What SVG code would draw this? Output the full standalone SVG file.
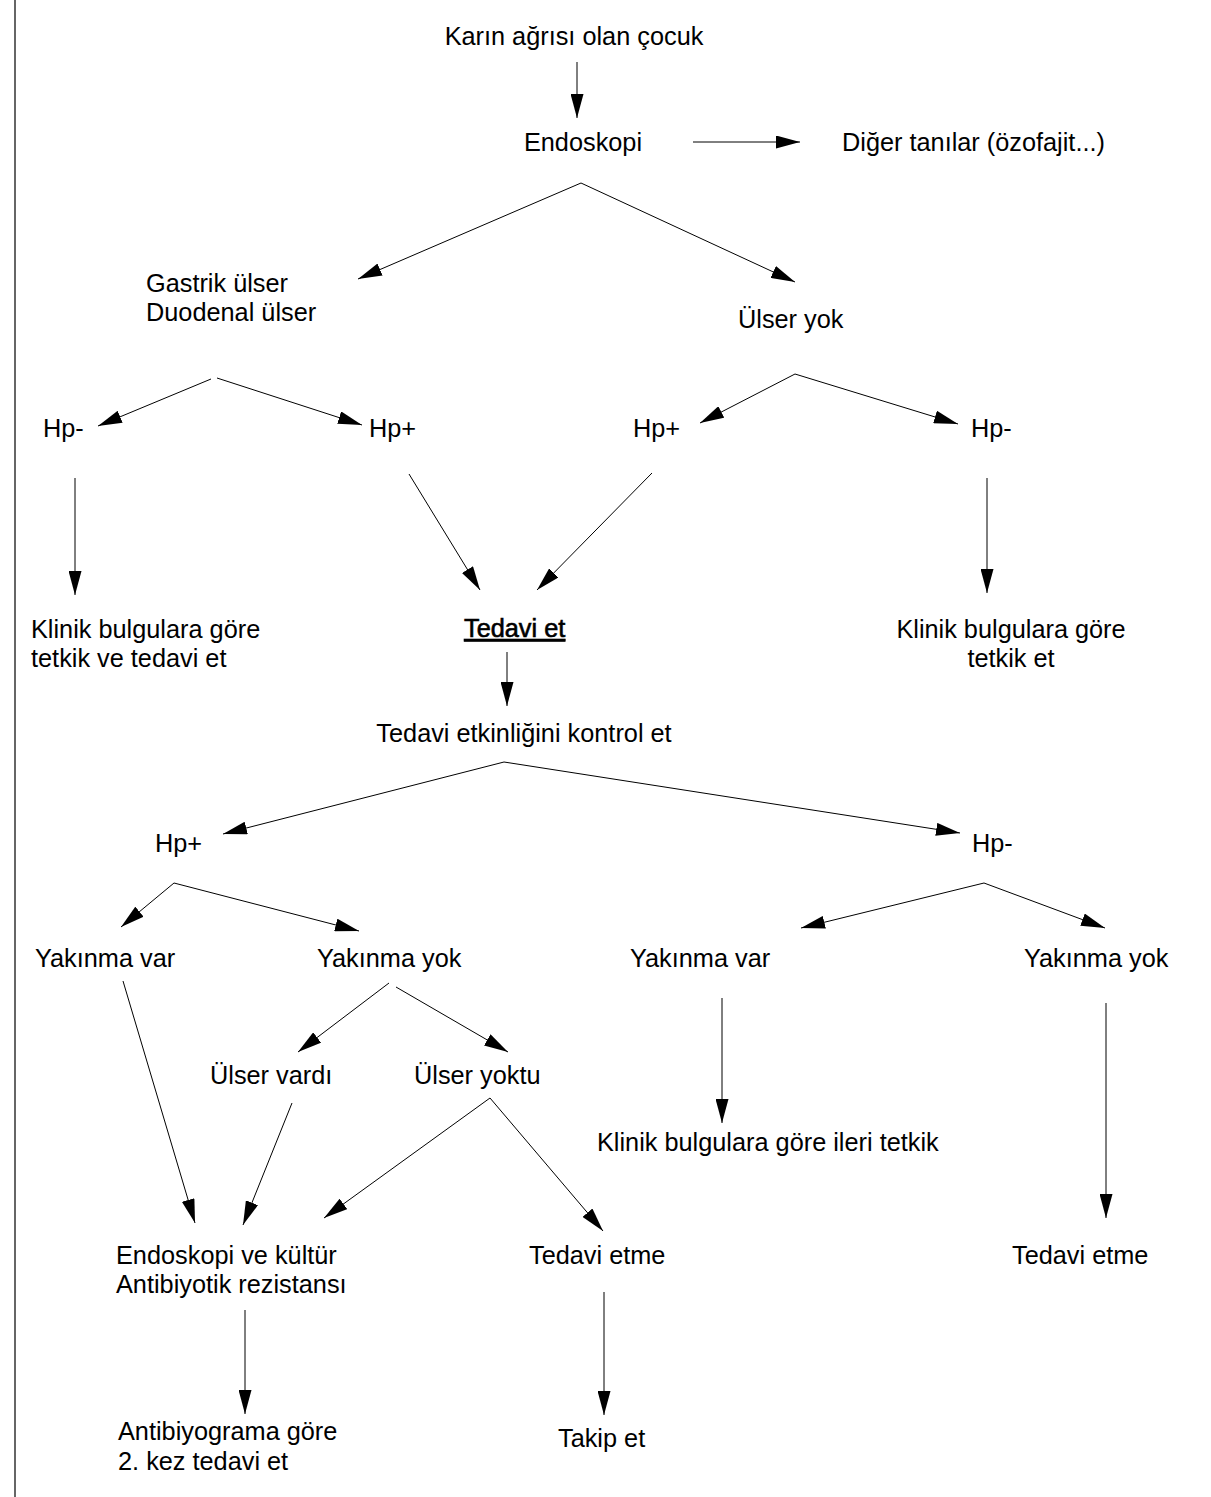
<svg xmlns="http://www.w3.org/2000/svg" width="1211" height="1497" viewBox="0 0 1211 1497">
<defs>
<marker id="ah" markerUnits="userSpaceOnUse" markerWidth="24" markerHeight="13" refX="24" refY="6.5" orient="auto">
<path d="M0,0 L24,6.5 L0,13 z" fill="#000"/>
</marker>
<style>
text{font-family:"Liberation Sans",Arial,Helvetica,sans-serif;font-size:25.3px;fill:#000}
.c line{stroke:#000;stroke-width:1;marker-end:url(#ah)}
.u{text-decoration:underline;stroke:#000;stroke-width:0.6}
</style>
</defs>
<rect width="1211" height="1497" fill="#fff"/>
<line x1="15" y1="0" x2="15" y2="1497" stroke="#333" stroke-width="1.5"/>
<g id="connectors" class="c">
<line x1="577" y1="62" x2="577" y2="118"/>
<line x1="693" y1="142" x2="800" y2="142"/>
<line x1="581" y1="183" x2="358" y2="279"/>
<line x1="581" y1="183" x2="795" y2="282"/>
<line x1="211" y1="379" x2="98" y2="426"/>
<line x1="217" y1="378" x2="362" y2="425"/>
<line x1="75" y1="478" x2="75" y2="595"/>
<line x1="409" y1="474" x2="480" y2="590"/>
<line x1="795" y1="374" x2="700" y2="423"/>
<line x1="795" y1="374" x2="958" y2="424"/>
<line x1="652" y1="473" x2="537" y2="590"/>
<line x1="987" y1="478" x2="987" y2="593"/>
<line x1="507" y1="652" x2="507" y2="706"/>
<line x1="504" y1="762" x2="223" y2="834"/>
<line x1="504" y1="762" x2="960" y2="833"/>
<line x1="174" y1="883" x2="121" y2="927"/>
<line x1="174" y1="883" x2="359" y2="931"/>
<line x1="984" y1="883" x2="801" y2="928"/>
<line x1="984" y1="883" x2="1105" y2="928"/>
<line x1="123" y1="981" x2="195" y2="1223"/>
<line x1="389" y1="983" x2="298" y2="1052"/>
<line x1="396" y1="987" x2="508" y2="1052"/>
<line x1="292" y1="1103" x2="243" y2="1225"/>
<line x1="490" y1="1098" x2="324" y2="1218"/>
<line x1="490" y1="1098" x2="603" y2="1231"/>
<line x1="722" y1="998" x2="722" y2="1123"/>
<line x1="1106" y1="1003" x2="1106" y2="1218"/>
<line x1="245" y1="1310" x2="245" y2="1414"/>
<line x1="604" y1="1292" x2="604" y2="1415"/>
</g>
<g id="n-karin"><text x="574" y="45" text-anchor="middle">Karın ağrısı olan çocuk</text></g>
<g id="n-endoskopi"><text x="583" y="151" text-anchor="middle">Endoskopi</text></g>
<g id="n-diger"><text x="842" y="151">Diğer tanılar (özofajit...)</text></g>
<g id="n-ulser"><text x="146" y="292">Gastrik ülser</text><text x="146" y="321">Duodenal ülser</text></g>
<g id="n-ulseryok"><text x="738" y="328">Ülser yok</text></g>
<g id="n-hp-1"><text x="43" y="437">Hp-</text></g>
<g id="n-hpp-1"><text x="369" y="437">Hp+</text></g>
<g id="n-hpp-2"><text x="633" y="437">Hp+</text></g>
<g id="n-hp-2"><text x="971" y="437">Hp-</text></g>
<g id="n-klinik1"><text x="31" y="638">Klinik bulgulara göre</text><text x="31" y="667">tetkik ve tedavi et</text></g>
<g id="n-tedavi"><text class="u" x="464" y="637">Tedavi et</text></g>
<g id="n-klinik2"><text x="1011" y="638" text-anchor="middle">Klinik bulgulara göre</text><text x="1011" y="667" text-anchor="middle">tetkik et</text></g>
<g id="n-kontrol"><text x="524" y="742" text-anchor="middle">Tedavi etkinliğini kontrol et</text></g>
<g id="n-hpp-3"><text x="155" y="852">Hp+</text></g>
<g id="n-hp-3"><text x="972" y="852">Hp-</text></g>
<g id="n-yvar1"><text x="35" y="967">Yakınma var</text></g>
<g id="n-yyok1"><text x="317" y="967">Yakınma yok</text></g>
<g id="n-yvar2"><text x="630" y="967">Yakınma var</text></g>
<g id="n-yyok2"><text x="1024" y="967">Yakınma yok</text></g>
<g id="n-uvardi"><text x="210" y="1084">Ülser vardı</text></g>
<g id="n-uyoktu"><text x="414" y="1084">Ülser yoktu</text></g>
<g id="n-ileri"><text x="597" y="1151">Klinik bulgulara göre ileri tetkik</text></g>
<g id="n-kultur"><text x="116" y="1264">Endoskopi ve kültür</text><text x="116" y="1293">Antibiyotik rezistansı</text></g>
<g id="n-tetme1"><text x="529" y="1264">Tedavi etme</text></g>
<g id="n-tetme2"><text x="1012" y="1264">Tedavi etme</text></g>
<g id="n-antibiyogram"><text x="118" y="1440">Antibiyograma göre</text><text x="118" y="1470">2. kez tedavi et</text></g>
<g id="n-takip"><text x="558" y="1447">Takip et</text></g>
</svg>
